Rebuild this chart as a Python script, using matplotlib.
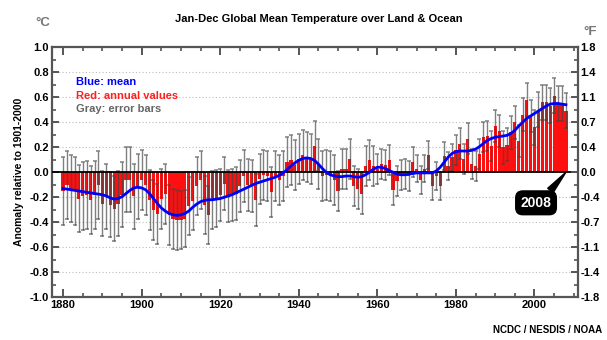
import numpy as np
import matplotlib

matplotlib.use('Agg')
import matplotlib.pyplot as plt
from matplotlib.ticker import MultipleLocator, FixedLocator

plt.rcParams['font.family'] = ['Liberation Sans', 'DejaVu Sans']

years = np.arange(1880, 2009)

# annual anomalies, deg C relative to 1901-2000
anomaly = [
    -0.15, -0.10, -0.13, -0.15, -0.21, -0.19, -0.18, -0.22, -0.18, -0.10,
    -0.25, -0.19, -0.26, -0.29, -0.25, -0.18, -0.06, -0.06, -0.19, -0.11,
    -0.06, -0.10, -0.22, -0.30, -0.33, -0.21, -0.17, -0.34, -0.37, -0.38,
    -0.38, -0.37, -0.27, -0.23, -0.11, -0.06, -0.26, -0.34, -0.22, -0.21,
    -0.18, -0.09, -0.19, -0.18, -0.17, -0.11, -0.03, -0.10, -0.11, -0.22,
    -0.05, -0.02, -0.03, -0.16, -0.03, -0.06, -0.03, 0.08, 0.10, 0.06,
    0.11, 0.14, 0.12, 0.11, 0.21, 0.07, -0.03, -0.02, -0.03, -0.06,
    -0.15, 0.03, 0.03, 0.11, -0.11, -0.13, -0.17, 0.05, 0.10, 0.05,
    0.03, 0.07, 0.06, 0.10, -0.14, -0.07, -0.02, -0.01, -0.03, 0.08,
    0.03, -0.06, 0.03, 0.14, -0.11, -0.03, -0.11, 0.13, 0.05, 0.12,
    0.18, 0.23, 0.11, 0.27, 0.07, 0.05, 0.15, 0.28, 0.29, 0.21,
    0.37, 0.33, 0.20, 0.22, 0.32, 0.40, 0.25, 0.46, 0.58, 0.45,
    0.36, 0.50, 0.56, 0.56, 0.53, 0.61, 0.55, 0.55, 0.49,
]

# half-width of the error bars
error = [
    0.27, 0.27, 0.27, 0.27, 0.27, 0.27, 0.27, 0.27, 0.27, 0.27,
    0.26, 0.26, 0.26, 0.26, 0.26, 0.26, 0.26, 0.26, 0.26, 0.26,
    0.24, 0.24, 0.24, 0.24, 0.24, 0.24, 0.24, 0.24, 0.24, 0.24,
    0.23, 0.23, 0.23, 0.23, 0.23, 0.23, 0.23, 0.23, 0.23, 0.23,
    0.21, 0.21, 0.21, 0.21, 0.21, 0.21, 0.21, 0.21, 0.21, 0.21,
    0.20, 0.20, 0.20, 0.20, 0.20, 0.20, 0.20, 0.20, 0.20, 0.20,
    0.20, 0.20, 0.20, 0.20, 0.20, 0.20, 0.20, 0.20, 0.20, 0.20,
    0.16, 0.16, 0.16, 0.16, 0.16, 0.16, 0.16, 0.16, 0.16, 0.16,
    0.12, 0.12, 0.12, 0.12, 0.12, 0.12, 0.12, 0.12, 0.12, 0.12,
    0.11, 0.11, 0.11, 0.11, 0.11, 0.11, 0.11, 0.11, 0.11, 0.11,
    0.12, 0.12, 0.12, 0.12, 0.12, 0.12, 0.12, 0.12, 0.12, 0.12,
    0.13, 0.13, 0.13, 0.13, 0.13, 0.13, 0.13, 0.13, 0.13, 0.13,
    0.14, 0.14, 0.14, 0.14, 0.14, 0.14, 0.14, 0.14, 0.14,
]

# smoothed mean
mean = [
    -0.13, -0.135, -0.14, -0.145, -0.15, -0.155, -0.16, -0.165, -0.17, -0.175,
    -0.18, -0.19, -0.205, -0.215, -0.21, -0.195, -0.17, -0.145, -0.125, -0.12,
    -0.125, -0.14, -0.17, -0.21, -0.25, -0.285, -0.31, -0.33, -0.34, -0.345,
    -0.34, -0.33, -0.31, -0.28, -0.255, -0.235, -0.225, -0.22, -0.22, -0.215,
    -0.21, -0.20, -0.19, -0.18, -0.165, -0.15, -0.135, -0.12, -0.105, -0.09,
    -0.08, -0.07, -0.06, -0.05, -0.04, -0.025, -0.005, 0.02, 0.05, 0.075,
    0.095, 0.11, 0.115, 0.11, 0.095, 0.065, 0.03, 0.00, -0.02, -0.03,
    -0.035, -0.035, -0.03, -0.03, -0.035, -0.04, -0.035, -0.02, 0.00, 0.025,
    0.04, 0.04, 0.03, 0.015, 0.00, -0.015, -0.02, -0.02, -0.015, -0.01,
    -0.005, -0.005, -0.005, -0.005, -0.005, 0.01, 0.04, 0.08, 0.12, 0.15,
    0.165, 0.17, 0.17, 0.17, 0.175, 0.185, 0.205, 0.23, 0.255, 0.27,
    0.28, 0.285, 0.29, 0.295, 0.31, 0.335, 0.37, 0.40, 0.43, 0.45,
    0.47, 0.49, 0.51, 0.53, 0.545, 0.55, 0.55, 0.545, 0.54,
]

c_ticks = [1.0, 0.8, 0.6, 0.4, 0.2, 0.0, -0.2, -0.4, -0.6, -0.8, -1.0]
f_labels = ['1.8', '1.4', '1.1', '0.7', '0.4', '0.0', '-0.4', '-0.7', '-1.1', '-1.4', '-1.8']

frame = '#555555'

fig = plt.figure(figsize=(6.07, 3.40), dpi=100)
ax = fig.add_axes([0.0852, 0.1256, 0.8665, 0.7355])

ax.bar(years, anomaly, width=0.82, color='#ff1010', linewidth=0, zorder=2)
ax.errorbar(years, anomaly, yerr=error, fmt='none', ecolor='#444444', elinewidth=1.0,
            capsize=1.6, capthick=1.1, alpha=0.68, zorder=3)
ax.axhline(0, color='black', lw=1.3, zorder=4)
ax.plot(years, mean, color='#0000ff', lw=2.0, zorder=5)

for c in c_ticks[1:-1]:
    if c != 0:
        ax.axhline(c, color='#bbbbbb', lw=0.8, ls=(0, (1, 2)), zorder=1)

ax.set_xlim(1877.1, 2011.0)
ax.set_ylim(-1.0, 1.0)

ax.xaxis.set_major_locator(MultipleLocator(20))
ax.xaxis.set_minor_locator(MultipleLocator(5))
ax.yaxis.set_major_locator(FixedLocator(c_ticks))
ax.yaxis.set_minor_locator(MultipleLocator(0.1))
ax.set_yticklabels([f'{c:.1f}' for c in c_ticks])

ax.tick_params(which='both', direction='in', color=frame, top=True, right=False,
               labelsize=8, pad=2)
ax.tick_params(which='major', length=6, width=1.4)
ax.tick_params(which='minor', length=3, width=1.2)
ax.tick_params(axis='y', which='major', length=5)
for lab in ax.get_xticklabels() + ax.get_yticklabels():
    lab.set_fontweight('bold')

for sp in ax.spines.values():
    sp.set_color(frame)
    sp.set_linewidth(1.6)

# Fahrenheit scale on the right
axf = ax.twinx()
axf.set_ylim(ax.get_ylim())
axf.yaxis.set_major_locator(FixedLocator(c_ticks))
axf.yaxis.set_minor_locator(MultipleLocator(0.1))
axf.set_yticklabels(f_labels)
axf.tick_params(which='both', direction='in', color=frame, labelsize=8, pad=2)
axf.tick_params(which='major', length=5, width=1.4)
axf.tick_params(which='minor', length=3, width=1.2)
for lab in axf.get_yticklabels():
    lab.set_fontweight('bold')
for sp in axf.spines.values():
    sp.set_visible(False)

ax.set_ylabel('Anomaly relative to 1901-2000', fontsize=7.5, fontweight='bold', labelpad=4)

fig.text(0.525, 0.945, 'Jan-Dec Global Mean Temperature over Land & Ocean',
         ha='center', va='center', fontsize=8, fontweight='bold')
fig.text(0.07, 0.932, '°C', ha='center', va='center', fontsize=9.5,
         fontweight='bold', color='#777777')
fig.text(0.972, 0.905, '°F', ha='center', va='center', fontsize=9.5,
         fontweight='bold', color='#777777')
fig.text(0.992, 0.03, 'NCDC / NESDIS / NOAA', ha='right', va='center',
         fontsize=7, fontweight='bold')

ax.text(0.047, 0.86, 'Blue: mean', transform=ax.transAxes, color='#0000ff',
        fontsize=8, fontweight='bold', va='center')
ax.text(0.047, 0.806, 'Red: annual values', transform=ax.transAxes, color='#ff2020',
        fontsize=8, fontweight='bold', va='center')
ax.text(0.047, 0.752, 'Gray: error bars', transform=ax.transAxes, color='#666666',
        fontsize=8, fontweight='bold', va='center')

ax.annotate(str(years[-1]), xy=(years[-1], 0), xytext=(-21.5, -22),
            textcoords='offset points', ha='center', va='center', color='white',
            fontsize=10, fontweight='bold', zorder=6,
            bbox=dict(boxstyle='round,pad=0.35,rounding_size=0.5', fc='black', ec='black'),
            arrowprops=dict(arrowstyle='wedge,tail_width=0.5', fc='black', ec='black',
                            relpos=(0.82, 1.0), shrinkA=0, shrinkB=0))

fig.savefig('out.png', dpi=100)
